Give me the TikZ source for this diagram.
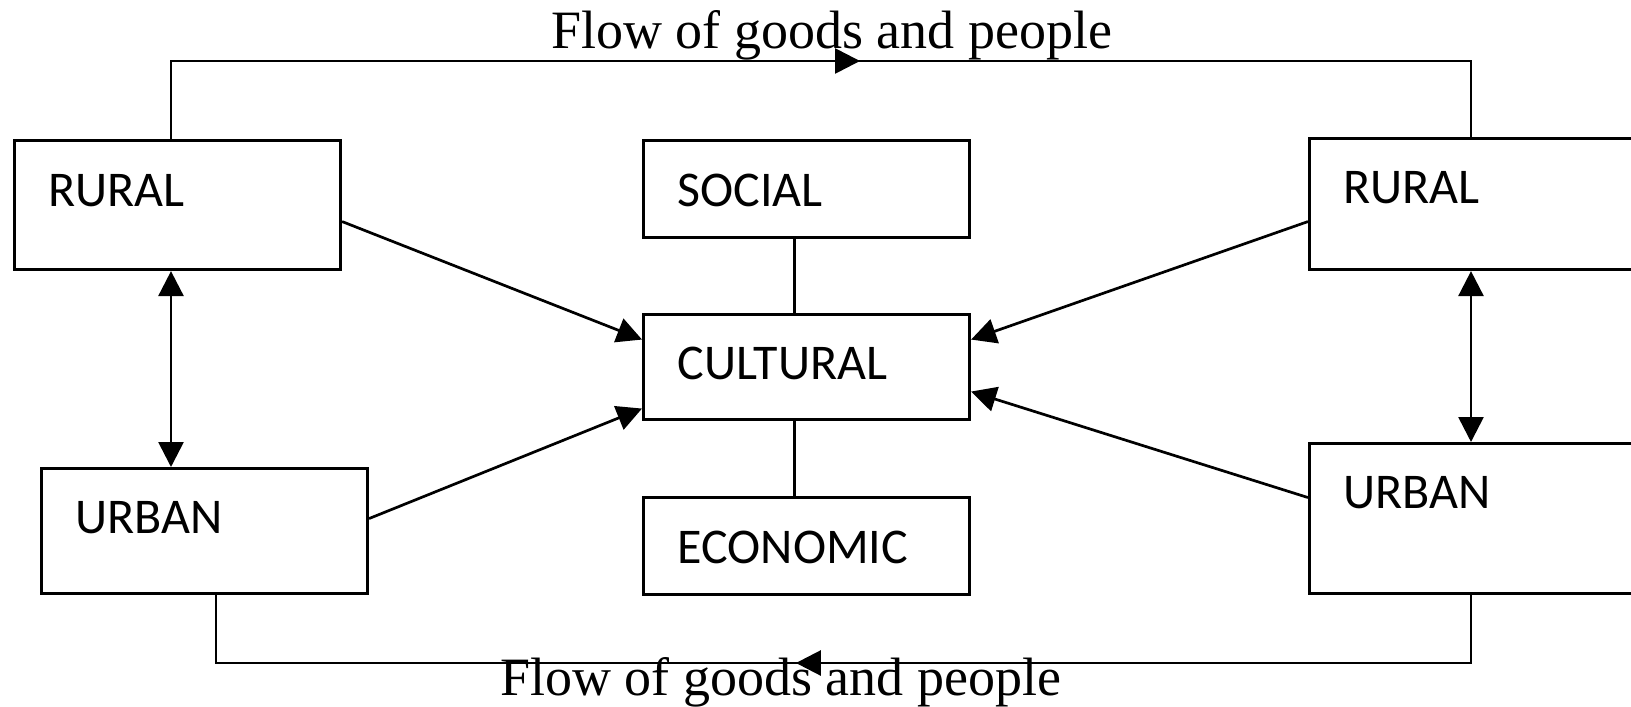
\documentclass[tikz,border=0pt]{standalone}
\usepackage{fontspec}
\setmainfont{Liberation Serif}
\newfontfamily\boxfont{Carlito}
\usetikzlibrary{arrows.meta,decorations.markings}

\begin{document}
\begin{tikzpicture}[x=1pt,y=-1pt,
    >={Triangle[length=25pt,width=25pt]},
    boxnode/.style={draw,line width=3.1pt,anchor=north west,inner xsep=34pt,inner ysep=0pt,
      text width=258pt,align=left,font=\boxfont\fontsize{50pt}{60pt}\selectfont},
    flowlabel/.style={anchor=base west,inner sep=0pt,font=\fontsize{54pt}{64pt}\selectfont},
    link/.style={line width=2.7pt}]
    \useasboundingbox (0,0) rectangle (1631,707);
    \node[boxnode,text height=66pt,text depth=63pt] (ruralL) at (13,139) {RURAL};
    \node[boxnode,text height=65pt,text depth=60pt] (urbanL) at (40,467) {URBAN};
    \node[boxnode,text height=66pt,text depth=31pt] (social) at (642,139) {SOCIAL};
    \node[boxnode,text height=65pt,text depth=40pt] (cultural) at (642,313) {CULTURAL};
    \node[boxnode,text height=66pt,text depth=31pt] (economic) at (642,496) {ECONOMIC};
    \node[boxnode,text height=65pt,text depth=66pt] (ruralR) at (1308,137) {RURAL};
    \node[boxnode,text height=65pt,text depth=85pt] (urbanR) at (1308,442) {URBAN};
    \node[flowlabel] (flowtop) at (551,48) {Flow of goods and people};
    \node[flowlabel] (flowbot) at (500,695) {Flow of goods and people};
    \coordinate (topL) at (171,61);
    \coordinate (topR) at (1471,61);
    \coordinate (botL) at (216,663);
    \coordinate (botR) at (1471,663);
    \draw[link,postaction={decorate},decoration={markings,mark=at position 767pt with {\arrow{>}}}]
      (ruralL.north -| topL) -- (topL) -- (topR) -- (ruralR.north -| topR);
    \draw[link,postaction={decorate},decoration={markings,mark=at position 743pt with {\arrow{>}}}]
      (urbanR.south -| botR) -- (botR) -- (botL) -- (urbanL.south -| botL);
    \draw[link,<->] (ruralL.south -| topL) -- (urbanL.north -| topL);
    \draw[link,<->] (ruralR.south -| topR) -- (urbanR.north -| topR);
    \draw[link,->] ([yshift=-16.5pt]ruralL.east) -- ([yshift=27.5pt]cultural.west);
    \draw[link,->] ([yshift=12.5pt]urbanL.east) -- ([yshift=-41.5pt]cultural.west);
    \draw[link,->] ([yshift=-17.5pt]ruralR.west) -- ([yshift=27.5pt]cultural.east);
    \draw[link,->] ([yshift=21pt]urbanR.west) -- ([yshift=-24.5pt]cultural.east);
    \draw[link] ([xshift=-12pt]social.south) -- ([xshift=-12pt]cultural.north);
    \draw[link] ([xshift=-12pt]cultural.south) -- ([xshift=-12pt]economic.north);
\end{tikzpicture}
\end{document}
